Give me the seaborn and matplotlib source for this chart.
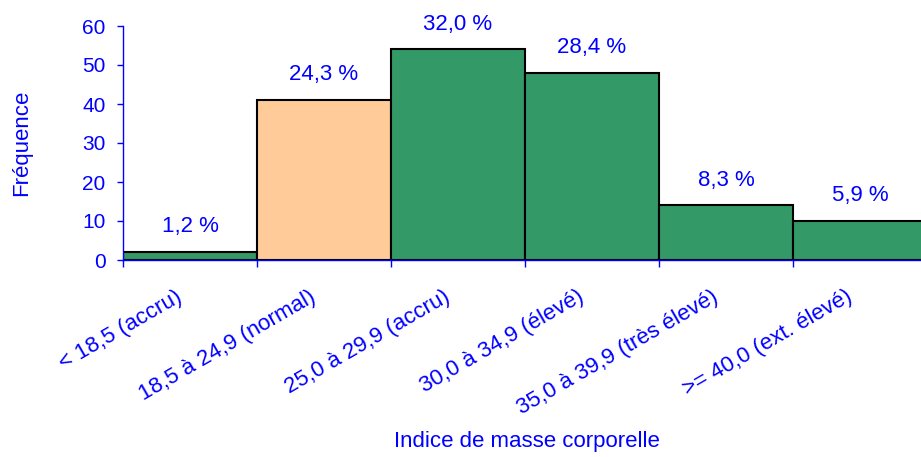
import matplotlib
matplotlib.use("Agg")
import matplotlib.pyplot as plt
import matplotlib.transforms as mtransforms
import seaborn as sns
import pandas as pd
import numpy as np

categories = ["< 18,5 (accru)", "18,5 à 24,9 (normal)", "25,0 à 29,9 (accru)",
              "30,0 à 34,9 (élevé)", "35,0 à 39,9 (très élevé)", ">= 40,0 (ext. élevé)"]
frequencies = [2, 41, 54, 48, 14, 10]
percent_labels = ["1,2 %", "24,3 %", "32,0 %", "28,4 %", "8,3 %", "5,9 %"]
bar_colors = ["#339966", "#FFCC99", "#339966", "#339966", "#339966", "#339966"]

sns.set_style("white")
plt.rcParams['font.family'] = ['Liberation Sans', 'DejaVu Sans']

blue = "#0000FF"
fs = 16
fig = plt.figure(figsize=(9.21, 4.57), dpi=100)
W, H = 921, 457
left_px, right_px, top_px, bot_px = 123, 927, 26, 260
ax = fig.add_axes([left_px / W, (H - bot_px) / H, (right_px - left_px) / W, (bot_px - top_px) / H])

df = pd.DataFrame({"cat": categories, "freq": frequencies})
sns.barplot(data=df, x="cat", y="freq", hue="cat", palette=bar_colors, width=1.0,
            edgecolor="black", linewidth=1.5, legend=False, ax=ax, saturation=1)

ax.set_xlim(-0.5, 5.5)
ax.set_ylim(0, 60)
ax.set_yticks(np.arange(0, 61, 10))

for i, (v, t) in enumerate(zip(frequencies, percent_labels)):
    ax.text(i, v + 6.5, t, ha="center", va="center", color=blue, fontsize=fs)

ax.set_xticks(range(len(categories)))
ax.set_xticklabels(categories, rotation=30, ha="right", rotation_mode="anchor",
                   color=blue, fontsize=fs)
ax.tick_params(axis="x", which="major", length=0, pad=19)
shift = mtransforms.ScaledTranslation(-15 / 100, 0, fig.dpi_scale_trans)
for lab in ax.get_xticklabels():
    lab.set_transform(lab.get_transform() + shift)
ax.set_xticks(np.arange(-0.5, 5.6, 1.0), minor=True)
ax.tick_params(axis="x", which="minor", length=5, color=blue, width=1, direction="out", bottom=True)
ax.tick_params(axis="y", length=4.5, color=blue, width=1, direction="out", left=True,
               labelcolor=blue, labelsize=15, pad=8)

for s in ["top", "right"]:
    ax.spines[s].set_visible(False)
for s in ["left", "bottom"]:
    ax.spines[s].set_color(blue)
    ax.spines[s].set_linewidth(1)
ax.spines["bottom"].set_zorder(5)

ax.set_xlabel("Indice de masse corporelle", color=blue, fontsize=fs)
ax.xaxis.set_label_coords((527 - left_px) / (right_px - left_px), -(431 - bot_px) / (bot_px - top_px))
ax.set_ylabel("Fréquence", color=blue, fontsize=fs)
ax.yaxis.set_label_coords(-(left_px - 32) / (right_px - left_px), 0.5)

fig.savefig("out.png", dpi=100)
